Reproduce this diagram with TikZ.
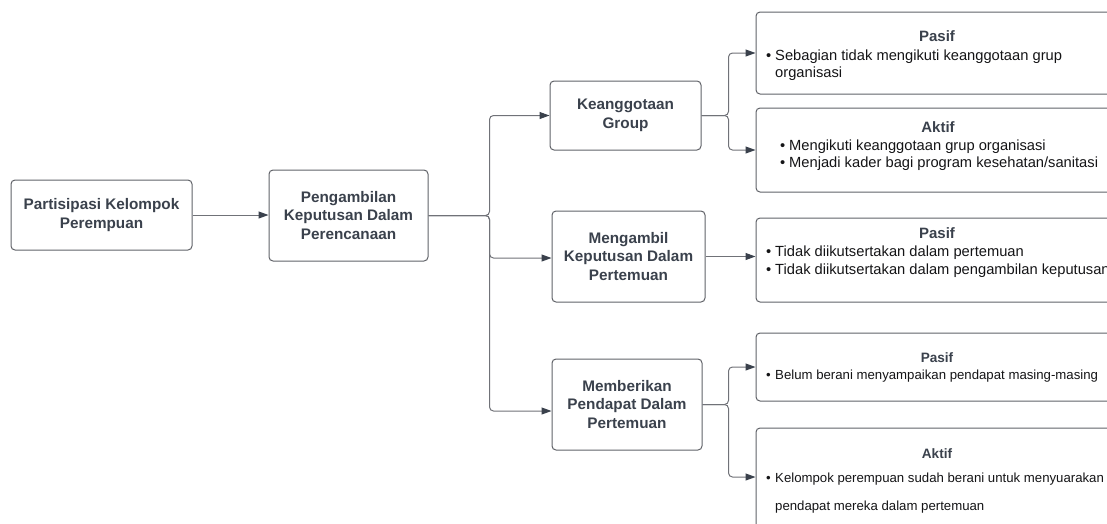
\documentclass[tikz,border=0pt]{standalone}
\usepackage{fontspec}
\setmainfont{Liberation Sans}
\usetikzlibrary{arrows.meta, positioning, calc}
\definecolor{boxline}{RGB}{96,98,104}
\definecolor{linegray}{RGB}{112,114,120}
\definecolor{titlec}{RGB}{58,65,76}
\definecolor{bodyc}{RGB}{20,20,22}
\newcommand{\bul}{\makebox[9pt][l]{•}}
\tikzset{
	stage/.style={draw=boxline, line width=1pt, rounded corners=4pt, align=center, inner sep=0pt,
		text=titlec, font=\fontsize{15.3}{18.5}\selectfont\bfseries},
	result/.style={draw=boxline, line width=1pt, rounded corners=4pt, minimum width=362pt, inner sep=0pt},
	head/.style={inner sep=0pt, text=titlec, font=\fontsize{15}{18}\selectfont\bfseries},
	headsm/.style={head, font=\fontsize{13.6}{16}\selectfont\bfseries},
	item/.style={anchor=base west, inner sep=0pt, text=bodyc, font=\fontsize{14.7}{17}\selectfont},
	itemsm/.style={item, font=\fontsize{13.2}{16}\selectfont},
	line/.style={draw=linegray, line width=1pt, rounded corners=4pt,
		-{Triangle[length=10pt,width=7pt,color=titlec]}}
}

\begin{document}
\begin{tikzpicture}[x=1pt, y=-1pt]
	\useasboundingbox (0,0) rectangle (1107,523);
	\clip (0,0) rectangle (1107,523);
	% left column
	\node[stage, minimum width=181pt, minimum height=70pt] (part) at (101.5,215) {Partisipasi Kelompok\\Perempuan};
	\node[stage, minimum width=159pt, minimum height=91pt] (plan) at (348.5,215.5) {Pengambilan\\Keputusan Dalam\\Perencanaan};
	% middle column
	\node[stage, minimum width=151pt, minimum height=69pt] (group) at (625.5,115.5) {Keanggotaan\\Group};
	\node[stage, minimum width=153pt, minimum height=91pt] (meet) at (628.5,256.5) {Mengambil\\Keputusan Dalam\\Pertemuan};
	\node[stage, minimum width=150pt, minimum height=91pt] (opin) at (627,404.5) {Memberikan\\Pendapat Dalam\\Pertemuan};
	% right column
	\node[result, minimum height=82pt] (pasifA) at (937,53) {};
	\node[head] (pasifAt) at (937,36) {Pasif};
	\node[item] (pasifA1) at (766,60) {\bul Sebagian tidak mengikuti keanggotaan grup};
	\node[item] (pasifA2) at (775,77) {organisasi};

	\node[result, minimum height=84pt] (aktifA) at (937,150) {};
	\node[head] (aktifAt) at (938,127) {Aktif};
	\node[item] (aktifA1) at (780,150) {\bul Mengikuti keanggotaan grup organisasi};
	\node[item] (aktifA2) at (780,167) {\bul Menjadi kader bagi program kesehatan/sanitasi};

	\node[result, minimum height=84pt] (pasifB) at (937,260) {};
	\node[head] (pasifBt) at (937,233) {Pasif};
	\node[item] (pasifB1) at (766,256) {\bul Tidak diikutsertakan dalam pertemuan};
	\node[item] (pasifB2) at (766,274) {\bul Tidak diikutsertakan dalam pengambilan keputusan};

	\node[result, minimum height=68pt] (pasifC) at (937,367) {};
	\node[headsm] (pasifCt) at (937,358) {Pasif};
	\node[itemsm] (pasifC1) at (766,379) {\bul Belum berani menyampaikan pendapat masing-masing};

	\node[result, minimum height=112pt] (aktifC) at (937,484) {};
	\node[headsm] (aktifCt) at (937,454) {Aktif};
	\node[itemsm] (aktifC1) at (766,482) {\bul Kelompok perempuan sudah berani untuk menyuarakan};
	\node[itemsm] (aktifC2) at (775,510) {pendapat mereka dalam pertemuan};
	% connectors
	\draw[line] (part.east) -- (part.east -| plan.west);
	\draw[line] (plan.east) -- ++(61,0) |- (group.west);
	\draw[line] (plan.east) -- ++(61,0) |- ([yshift=-1.5pt]meet.west);
	\draw[line] (plan.east) -- ++(61,0) |- ([yshift=-6.5pt]opin.west);
	\draw[line] (group.east) -- ++(27,0) |- (pasifA.west);
	\draw[line] (group.east) -- ++(27,0) |- (aktifA.west);
	\draw[line] (meet.east) -- (meet.east -| pasifB.west);
	\draw[line] (opin.east) -- ++(26,0) |- (pasifC.west);
	\draw[line] (opin.east) -- ++(26,0) |- ([yshift=7pt]aktifC.west);
\end{tikzpicture}
\end{document}
